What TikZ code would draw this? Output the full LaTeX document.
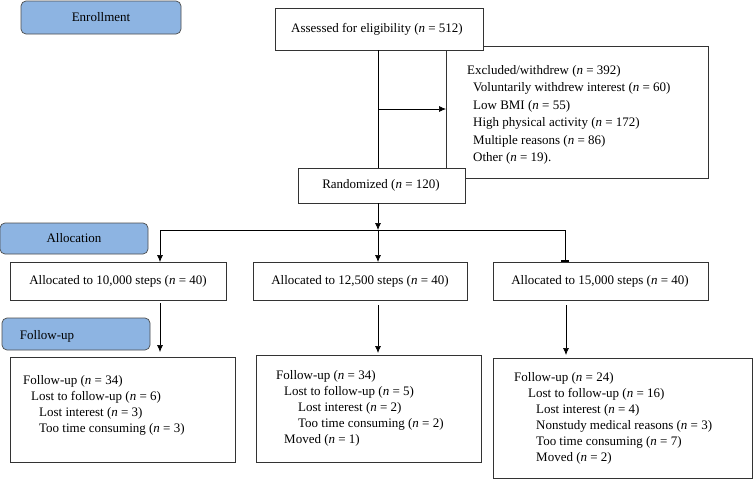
\documentclass[tikz,border=0pt]{standalone}
\usepackage{fontspec}
\setmainfont{Liberation Serif}
\usetikzlibrary{arrows.meta}
\newcommand{\nn}{\textit{n}}
\begin{document}
\begin{tikzpicture}[x=1pt,y=-1pt,
  box/.style={draw=black!80,fill=white,line width=0.7pt},
  lab/.style={draw=black!70,fill={rgb,255:red,141;green,180;blue,226},rounded corners=5pt,line width=0.7pt},
  tf/.style={font=\fontsize{13}{15}\selectfont},
  txt/.style={font=\fontsize{13}{17.5}\selectfont,anchor=north west,align=left,inner sep=0},
  arr/.style={-{Latex[length=7pt,width=6pt]},line width=0.7pt},
  ln/.style={line width=0.7pt}]
\useasboundingbox (0,0) rectangle (756,480);
% labels
\draw[lab] (21,1) rectangle (181,34); \node[tf] (en) at (101,17) {Enrollment};
\draw[lab] (0,223) rectangle (148,254); \node[tf] (al) at (74,238) {Allocation};
\draw[lab] (2,318) rectangle (150,350); \node[tf] (fu) at (47,336) {Follow-up};
% excluded
\draw[box] (446,46) rectangle (708,178);
\node[txt] (ex) at (467,65) {Excluded/withdrew (\nn{} = 392)\\
\hspace{6pt}Voluntarily withdrew interest (\nn{} = 60)\\
\hspace{6pt}Low BMI (\nn{} = 55)\\
\hspace{6pt}High physical activity (\nn{} = 172)\\
\hspace{6pt}Multiple reasons (\nn{} = 86)\\
\hspace{6pt}Other (\nn{} = 19).};
% assessed
\draw[box] (275,8) rectangle (483,50);
\node[tf] (as) at (377,29) {Assessed for eligibility (\nn{} = 512)};
\draw[ln] (378,50) -- (378,168);
\coordinate (ej) at (378,109);
\coordinate (ee) at (446,109);
\draw[arr] (ej) -- (ee);
% randomized
\draw[box] (298,168) rectangle (465,203);
\node[tf] (ra) at (381,185) {Randomized (\nn{} = 120)};
\coordinate (r1) at (378,203); \coordinate (r2) at (378,230);
\draw[arr] (r1) -- (r2);
\draw[ln] (160,230) -- (565,230);
\coordinate (b1) at (160,230); \coordinate (b1e) at (160,262);
\coordinate (b3) at (565,230); \coordinate (b3e) at (565,262);
\draw[arr] (b1) -- (b1e);
\draw[arr] (r2) -- (378,262);
\draw[ln] (b3) -- (b3e); \draw[line width=1.5pt] (561,261) -- (569,261);
% allocation boxes
\draw[box] (10,262) rectangle (226,300); \node[tf] (a1) at (118,281) {Allocated to 10,000 steps (\nn{} = 40)};
\draw[box] (253,262) rectangle (467,300); \node[tf] (a2) at (360,281) {Allocated to 12,500 steps (\nn{} = 40)};
\draw[box] (493,262) rectangle (708,300); \node[tf] (a3) at (600,281) {Allocated to 15,000 steps (\nn{} = 40)};
\coordinate (f1s) at (160,303); \coordinate (f1e) at (160,352);
\coordinate (f2s) at (378,305); \coordinate (f2e) at (378,353);
\coordinate (f3s) at (566,305); \coordinate (f3e) at (566,355);
\draw[arr] (f1s) -- (f1e); \draw[arr] (f2s) -- (f2e); \draw[arr] (f3s) -- (f3e);
% follow boxes
\draw[box] (10,357) rectangle (235,462);
\node[txt,font=\fontsize{13}{16}\selectfont] (g1) at (23,375) {Follow-up (\nn{} = 34)\\
\hspace{8pt}Lost to follow-up (\nn{} = 6)\\
\hspace{16pt}Lost interest (\nn{} = 3)\\
\hspace{16pt}Too time consuming (\nn{} = 3)};
\draw[box] (256,355) rectangle (481,462);
\node[txt,font=\fontsize{13}{16}\selectfont] (g2) at (276,370) {Follow-up (\nn{} = 34)\\
\hspace{8pt}Lost to follow-up (\nn{} = 5)\\
\hspace{22pt}Lost interest (\nn{} = 2)\\
\hspace{22pt}Too time consuming (\nn{} = 2)\\
\hspace{8pt}Moved (\nn{} = 1)};
\draw[box] (493,358) rectangle (752,478);
\node[txt,font=\fontsize{13}{16}\selectfont] (g3) at (514,372) {Follow-up (\nn{} = 24)\\
\hspace{14pt}Lost to follow-up (\nn{} = 16)\\
\hspace{22pt}Lost interest (\nn{} = 4)\\
\hspace{22pt}Nonstudy medical reasons (\nn{} = 3)\\
\hspace{22pt}Too time consuming (\nn{} = 7)\\
\hspace{22pt}Moved (\nn{} = 2)};
\end{tikzpicture}
\end{document}
